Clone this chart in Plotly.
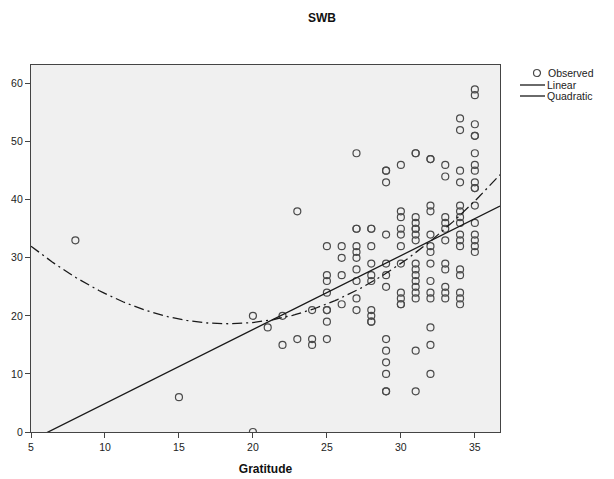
import numpy as np
import plotly.graph_objects as go

# Observed data: Gratitude (x) and SWB (y), read column by column
gratitude_cols = [8, 15, 20, 21, 22, 23, 24, 25, 26, 27, 28, 29, 30, 31, 32, 33, 34, 35]
swb_cols = [
    [33],
    [6],
    [20, 0],
    [18],
    [20, 15],
    [38, 16],
    [21, 16, 15],
    [32, 27, 26, 24, 21, 21, 19, 16],
    [32, 30, 27, 22],
    [48, 35, 35, 32, 31, 30, 28, 26, 23, 21],
    [35, 35, 32, 29, 27, 26, 21, 20, 19, 19],
    [45, 45, 43, 34, 29, 27, 25, 16, 14, 12, 10, 7, 7],
    [46, 38, 37, 35, 34, 32, 29, 24, 23, 22, 22],
    [48, 48, 37, 36, 35, 35, 34, 33, 29, 28, 27, 26, 25, 24, 23, 14, 7],
    [47, 47, 39, 38, 34, 32, 31, 29, 26, 24, 23, 18, 15, 10],
    [46, 44, 37, 36, 35, 33, 29, 28, 25, 24, 23],
    [54, 52, 45, 43, 39, 38, 37, 36, 34, 33, 32, 28, 27, 24, 23, 22],
    [59, 58, 53, 51, 51, 48, 46, 45, 43, 42, 42, 39, 36, 34, 33, 32, 31],
]

x_ticks = [5, 10, 15, 20, 25, 30, 35]
y_ticks = [0, 10, 20, 30, 40, 50, 60]
legend_labels = ["Observed", "Linear", "Quadratic"]

gratitude = []
swb = []
for gx, ys in zip(gratitude_cols, swb_cols):
    for v in ys:
        gratitude.append(gx)
        swb.append(v)
gratitude = np.array(gratitude, dtype=float)
swb = np.array(swb, dtype=float)

x_min, x_max = 5, 36.7
xs = np.linspace(x_min, x_max, 200)
lin = np.polyfit(gratitude, swb, 1)
quad = np.polyfit(gratitude, swb, 2)

line_col = "#1a1a1a"
mark_col = "#4a4a4a"
fig = go.Figure()
fig.add_trace(go.Scatter(
    x=gratitude, y=swb, mode="markers", name=legend_labels[0],
    marker=dict(symbol="circle-open", size=7, color=mark_col, line=dict(width=1.2)),
))
fig.add_trace(go.Scatter(
    x=xs, y=np.polyval(lin, xs), mode="lines", name=legend_labels[1],
    line=dict(color=line_col, width=1.3),
))
fig.add_trace(go.Scatter(
    x=xs, y=np.polyval(quad, xs), mode="lines", name=legend_labels[2],
    line=dict(color=line_col, width=1.3, dash="10px,4px,2px,4px"),
))

# manual legend (compact, SPSS-like); plot area is 469 x 367 px
PW, PH = 469.0, 367.0
def px(dx):
    return 1 + dx / PW
def py(dy):
    return 1 - dy / PH

shapes = [
    dict(type="circle", xref="paper", yref="paper",
         x0=px(37 - 3.5), x1=px(37 + 3.5), y0=py(8 + 3.5), y1=py(8 - 3.5),
         line=dict(color=mark_col, width=1.2)),
    dict(type="line", xref="paper", yref="paper",
         x0=px(20), x1=px(45), y0=py(20), y1=py(20),
         line=dict(color=line_col, width=1.3)),
    dict(type="line", xref="paper", yref="paper",
         x0=px(20), x1=px(45), y0=py(31), y1=py(31),
         line=dict(color=line_col, width=1.3)),
]
annotations = []
for lbl, dx, dy in zip(legend_labels, [46, 45, 45], [8, 20, 31]):
    annotations.append(dict(text=lbl, xref="paper", yref="paper", x=px(dx), y=py(dy),
                            xanchor="left", yanchor="middle", showarrow=False,
                            font=dict(size=10.5, color="#222")))

fig.update_layout(
    width=606, height=471,
    margin=dict(l=23, r=114, t=57, b=47),
    paper_bgcolor="white", plot_bgcolor="#f0f0f0",
    font=dict(family="Liberation Sans, Arial, sans-serif", size=10.5, color="#222"),
    title=dict(text="<b>SWB</b>", x=0.518, xref="container", y=0.979, yref="container",
               xanchor="center", yanchor="middle", font=dict(size=12, color="#111")),
    showlegend=False,
    shapes=shapes,
    annotations=annotations,
)
fig.update_xaxes(
    range=[x_min, x_max], tickvals=x_ticks, ticktext=[str(t) for t in x_ticks],
    showgrid=False, zeroline=False, showline=True, linecolor="#444", linewidth=1.2,
    mirror=True, ticks="outside", ticklen=5, tickcolor="#444", automargin=False,
    title=dict(text="<b>Gratitude</b>", font=dict(size=12, color="#111"), standoff=12),
)
fig.update_yaxes(
    range=[0, 63.2], tickvals=y_ticks, ticktext=[str(t) for t in y_ticks],
    showgrid=False, zeroline=False, showline=True, linecolor="#444", linewidth=1.2,
    mirror=True, ticks="outside", ticklen=5, tickcolor="#444", automargin=False,
)
fig.write_html("out.html")
